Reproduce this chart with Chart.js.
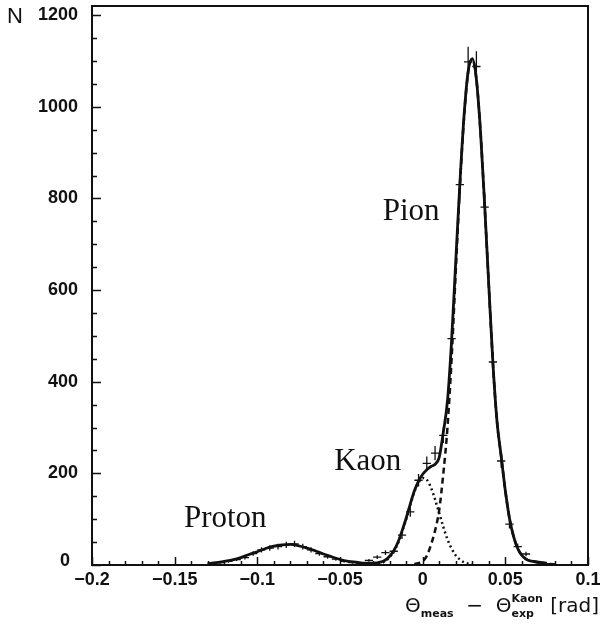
<!DOCTYPE html>
<html>
<head>
<meta charset="utf-8">
<script src="https://cdn.jsdelivr.net/npm/chart.js@4.4.1/dist/chart.umd.min.js"></script>
<style>
  html, body { margin: 0; background: #fff; }
  #wrap { width: 600px; height: 624px; }
</style>
</head>
<body>
<div id="wrap"><canvas id="chart" width="600" height="624"></canvas></div>
<script>
// measured histogram (bin centres, 0.005 wide) and counts
const binX = [-0.1275, -0.1225, -0.1175, -0.1125, -0.1075, -0.1025, -0.0975, -0.0925, -0.0875, -0.0825,
  -0.0775, -0.0725, -0.0675, -0.0625, -0.0575, -0.0525, -0.0475, -0.0425, -0.0375, -0.0325,
  -0.0275, -0.0225, -0.0175, -0.0125, -0.0075, -0.0025, 0.0025, 0.0075, 0.0125, 0.0175,
  0.0225, 0.0275, 0.0325, 0.0375, 0.0425, 0.0475, 0.0525, 0.0575, 0.0625, 0.0675, 0.0725, 0.0775];
const binN = [3, 5, 8, 12, 16, 25, 33, 37, 40, 44,
  46, 40, 33, 25, 18, 13, 8, 5, 4, 10,
  17, 27, 30, 65, 116, 185, 222, 244, 283, 494,
  830, 1098, 1088, 781, 443, 227, 89, 40, 24, 8, 5, 3];

// total fit (solid)
const fitX = [-0.13, -0.125, -0.12, -0.115, -0.11, -0.105, -0.1, -0.095, -0.09, -0.085,
  -0.08, -0.075, -0.07, -0.065, -0.06, -0.055, -0.05, -0.045, -0.04, -0.035,
  -0.03, -0.025, -0.0225, -0.02, -0.0175, -0.015, -0.0125, -0.01, -0.0075, -0.005,
  -0.0025, 0, 0.0025, 0.005, 0.0075, 0.01, 0.0125, 0.015, 0.0175, 0.02,
  0.0225, 0.025, 0.0275, 0.03, 0.0325, 0.035, 0.0375, 0.04, 0.0425, 0.045,
  0.0475, 0.05, 0.0525, 0.055, 0.0575, 0.06, 0.0625, 0.065, 0.07, 0.075];
const fitTotal = [3, 5, 8, 11, 16, 23, 29, 36, 41, 44,
  45, 42, 37, 31, 24, 18, 12, 8, 6, 4,
  4, 7, 11, 19, 31, 49, 74, 102, 133, 162,
  183, 198, 208, 215, 220, 235, 290, 358, 490, 662,
  832, 979, 1077, 1105, 1060, 945, 785, 610, 440, 312,
  237, 162, 102, 62, 36, 21, 13, 9, 6, 4];

// pion component (dashed)
const pionX = [-0.005, 0, 0.0025, 0.005, 0.0075, 0.01, 0.0125, 0.015, 0.0175, 0.02,
  0.0225, 0.025, 0.0275, 0.03, 0.0325, 0.035, 0.0375, 0.04, 0.0425, 0.045,
  0.0475, 0.05, 0.0525, 0.055, 0.0575, 0.06, 0.0625, 0.065, 0.07, 0.075];
const pionFit = [2, 8, 20, 44, 75, 120, 200, 300, 450, 640,
  825, 975, 1075, 1104, 1060, 945, 785, 610, 440, 312,
  237, 162, 102, 62, 36, 21, 13, 9, 6, 4];

// kaon component (dotted)
const kaonX = [-0.03, -0.025, -0.0225, -0.02, -0.0175, -0.015, -0.0125, -0.01, -0.0075, -0.005,
  -0.0025, 0, 0.0025, 0.005, 0.0075, 0.01, 0.0125, 0.015, 0.0175, 0.02,
  0.0225, 0.025, 0.0275, 0.03];
const kaonFit = [1, 4, 9, 17, 29, 47, 72, 100, 131, 160,
  180, 190, 186, 169, 143, 113, 83, 56, 36, 21,
  12, 6, 3, 1];

const xTickValues = [-0.2, -0.15, -0.1, -0.05, 0, 0.05, 0.1];
const xTickLabels = ['−0.2', '−0.15', '−0.1', '−0.05', '0', '0.05', '0.1'];
const yTickValues = [0, 200, 400, 600, 800, 1000, 1200];
const yTickLabels = ['0', '200', '400', '600', '800', '1000', '1200'];

const peakLabels = [
  { text: 'Pion', x: -0.0242, y: 752 },
  { text: 'Kaon', x: -0.0535, y: 207 },
  { text: 'Proton', x: -0.1444, y: 83 },
];

const ink = '#111';
const binHalf = 0.0025;
const tickFont = { family: '"Liberation Sans", Arial, sans-serif', size: 18, weight: 'bold' };

const pts = (xs, ys) => xs.map((v, i) => ({ x: v, y: ys[i] }));
const labelFor = (vals, labels) => (v) => {
  const i = vals.findIndex((t) => Math.abs(t - v) < 1e-9);
  return i >= 0 ? labels[i] : '';
};

function drawTitle(ctx) {
  const big = '20px "DejaVu Sans", sans-serif';
  const small = 'bold 11px "DejaVu Sans", sans-serif';
  const parts = [
    { t: 'Θ', f: big, dy: 0 },
    { t: 'meas', f: small, dy: 5 },
    { t: '  −  ', f: big, dy: 0 },
    { t: 'Θ', f: big, dy: 0 },
    { stack: [{ t: 'Kaon', f: small, dy: -10 }, { t: 'exp', f: small, dy: 5 }] },
    { t: ' [rad]', f: big, dy: 0 },
  ];
  const width = (p) => {
    if (p.stack) return Math.max(...p.stack.map(width)) + 1;
    ctx.font = p.f;
    return ctx.measureText(p.t).width;
  };
  const total = parts.reduce((s, p) => s + width(p), 0);
  let cx = 598 - total;
  const base = 612;
  ctx.textAlign = 'left';
  ctx.textBaseline = 'alphabetic';
  parts.forEach((p) => {
    const w = width(p);
    (p.stack || [p]).forEach((q) => {
      ctx.font = q.f;
      ctx.fillText(q.t, cx + 1, base + q.dy);
    });
    cx += w;
  });
}

// frame, inward ticks, error crosses and text
const frame = {
  id: 'frame',
  afterDatasetsDraw(chart) {
    const { ctx, chartArea: a, scales: { x, y } } = chart;
    ctx.save();
    ctx.strokeStyle = ink;
    ctx.fillStyle = ink;

    ctx.lineWidth = 1.3;
    ctx.beginPath();
    binX.forEach((bx, i) => {
      const n = binN[i];
      const e = Math.sqrt(n);
      const px = x.getPixelForValue(bx);
      const py = y.getPixelForValue(n);
      ctx.moveTo(x.getPixelForValue(bx - binHalf), py);
      ctx.lineTo(x.getPixelForValue(bx + binHalf), py);
      ctx.moveTo(px, y.getPixelForValue(Math.max(0, n - e)));
      ctx.lineTo(px, y.getPixelForValue(n + e));
    });
    ctx.stroke();

    ctx.lineWidth = 2;
    ctx.strokeRect(a.left, a.top, a.width, a.height);

    ctx.lineWidth = 1.5;
    ctx.beginPath();
    for (let i = 0; i <= 30; i++) {
      const px = Math.round(x.getPixelForValue(-0.2 + i * 0.01)) + 0.5;
      const len = i % 5 === 0 ? 8 : 4;
      ctx.moveTo(px, a.bottom);
      ctx.lineTo(px, a.bottom - len);
    }
    for (let i = 0; i <= 24; i++) {
      const py = Math.round(y.getPixelForValue(i * 50)) + 0.5;
      const len = i % 4 === 0 ? 9 : 5;
      ctx.moveTo(a.left, py);
      ctx.lineTo(a.left + len, py);
    }
    ctx.stroke();

    // the zero label sits left/up of the corner, clear of "-0.2"
    ctx.font = 'bold 18px "Liberation Sans", Arial, sans-serif';
    ctx.textAlign = 'right';
    ctx.textBaseline = 'middle';
    ctx.fillText(yTickLabels[0], a.left - 22, y.getPixelForValue(0) - 4);

    ctx.font = '31px "Liberation Serif", "Times New Roman", serif';
    ctx.textAlign = 'left';
    ctx.textBaseline = 'alphabetic';
    peakLabels.forEach((l) => {
      ctx.fillText(l.text, x.getPixelForValue(l.x), y.getPixelForValue(l.y));
    });

    ctx.font = '22px "Liberation Sans", Arial, sans-serif';
    ctx.fillText('N', 7, 23);

    drawTitle(ctx);
    ctx.restore();
  },
};

new Chart(document.getElementById('chart').getContext('2d'), {
  type: 'line',
  data: {
    datasets: [
      {
        data: pts(kaonX, kaonFit),
        borderColor: ink,
        borderWidth: 2.5,
        borderDash: [2, 3],
        pointRadius: 0,
        cubicInterpolationMode: 'monotone',
      },
      {
        data: pts(pionX, pionFit),
        borderColor: ink,
        borderWidth: 2.5,
        borderDash: [6, 4],
        pointRadius: 0,
        cubicInterpolationMode: 'monotone',
      },
      {
        data: pts(fitX, fitTotal),
        borderColor: ink,
        borderWidth: 2.8,
        pointRadius: 0,
        cubicInterpolationMode: 'monotone',
      },
    ],
  },
  options: {
    responsive: false,
    animation: false,
    devicePixelRatio: 1,
    layout: { padding: { top: 6, right: 12, left: 0, bottom: 0 } },
    plugins: { legend: { display: false }, tooltip: { enabled: false } },
    scales: {
      x: {
        type: 'linear',
        min: -0.2,
        max: 0.1,
        afterBuildTicks: (s) => { s.ticks = xTickValues.map((v) => ({ value: v })); },
        afterFit: (s) => { s.height = 59; s.paddingLeft = 0; s.paddingRight = 0; },
        grid: { display: false, drawTicks: false },
        border: { display: false },
        ticks: {
          color: ink,
          font: tickFont,
          padding: 4,
          maxRotation: 0,
          autoSkip: false,
          callback: labelFor(xTickValues, xTickLabels),
        },
      },
      y: {
        type: 'linear',
        min: 0,
        max: 1220,
        afterBuildTicks: (s) => { s.ticks = yTickValues.map((v) => ({ value: v })); },
        afterFit: (s) => { s.width = 92; s.paddingTop = 0; s.paddingBottom = 0; },
        grid: { display: false, drawTicks: false },
        border: { display: false },
        ticks: {
          color: ink,
          font: tickFont,
          padding: 14,
          callback: (v) => (v === 0 ? '' : labelFor(yTickValues, yTickLabels)(v)),
        },
      },
    },
  },
  plugins: [frame],
});
</script>
</body>
</html>
